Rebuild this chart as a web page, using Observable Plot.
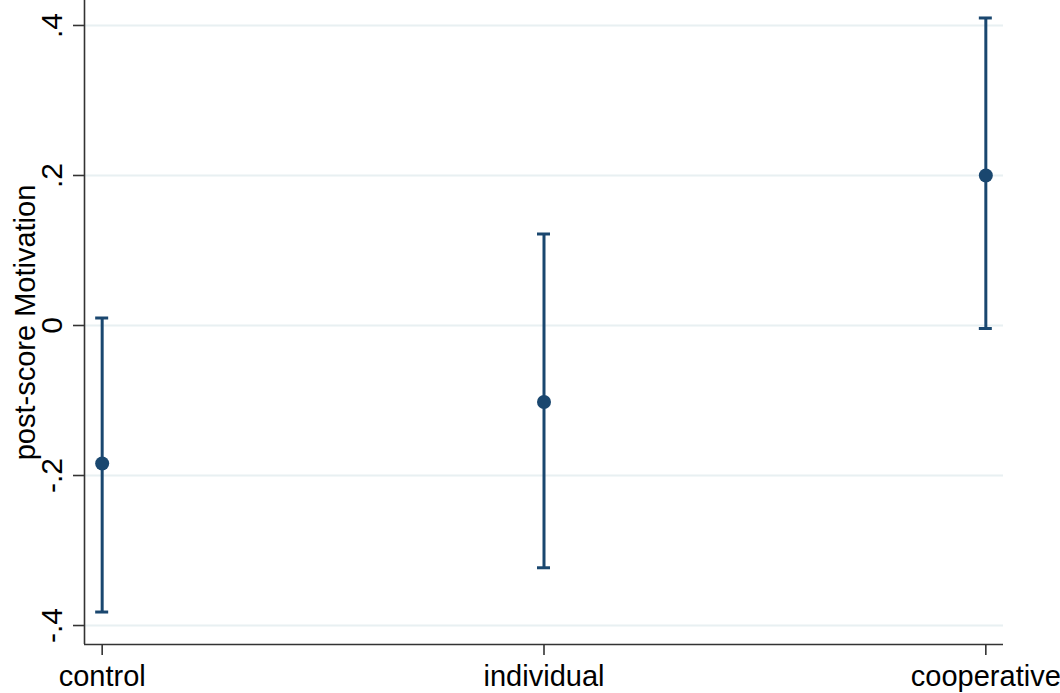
<!DOCTYPE html>
<html>
<head>
<meta charset="utf-8">
<script src="https://cdn.jsdelivr.net/npm/d3@7"></script>
<script src="https://cdn.jsdelivr.net/npm/@observablehq/plot@0.6"></script>
<style>
  body { margin: 0; background: #fff; }
  #chart svg { display: block; }
</style>
</head>
<body>
<div id="chart"></div>
<script>
// Group means of post-score Motivation with 95% confidence intervals
const categories = ["control", "individual", "cooperative"];
const means = [-0.184, -0.102, 0.200];
const lower = [-0.382, -0.323, -0.004];
const upper = [0.010, 0.122, 0.410];

const yTicks = [-0.4, -0.2, 0, 0.2, 0.4];
const yTickLabels = ["-.4", "-.2", "0", ".2", ".4"];
const yTitle = "post-score Motivation";

const rows = categories.map((c, i) => ({i, c, mean: means[i], lo: lower[i], hi: upper[i]}));
const yLabelRows = yTicks.map((v, k) => ({v, label: yTickLabels[k]}));

const xPad = 0.04;
const xDomain = [-xPad, categories.length - 1 + xPad];
const yDomain = [-0.4253, 0.4333];

const navy = "#1a476f";
const axisColor = "#333333";
const gridColor = "#e8f0f2";

const chart = Plot.plot({
  width: 1060,
  height: 693,
  marginLeft: 84,
  marginRight: 57,
  marginTop: 0,
  marginBottom: 49,
  style: {fontFamily: "'Liberation Sans', Arial, sans-serif", fontSize: "29px", color: "#000", background: "#fff"},
  x: {domain: xDomain, axis: null},
  y: {domain: yDomain, axis: null},
  marks: [
    // horizontal grid
    Plot.ruleY(yTicks, {stroke: gridColor, strokeWidth: 2}),
    // axis lines
    Plot.ruleX([xDomain[0]], {stroke: axisColor, strokeWidth: 1.6}),
    Plot.ruleY([yDomain[0]], {stroke: axisColor, strokeWidth: 1.6}),
    // y ticks (labels drawn separately, rotated)
    Plot.axisY({ticks: yTicks, tickSize: 11, tickFormat: () => "", stroke: axisColor, strokeWidth: 1.6, label: null}),
    Plot.text(yLabelRows, {
      y: "v", text: "label", frameAnchor: "left", dx: -23,
      rotate: -90, textAnchor: "middle", lineAnchor: "bottom", fontSize: 30, fill: "#000"
    }),
    Plot.text([yTitle], {
      text: d => d, frameAnchor: "left", dx: -50,
      rotate: -90, textAnchor: "middle", lineAnchor: "bottom", fontSize: 29, fill: "#000"
    }),
    // x axis with category names
    Plot.axisX({
      ticks: d3.range(categories.length), tickFormat: i => categories[i],
      tickSize: 11, tickPadding: 10, stroke: axisColor, strokeWidth: 1.6,
      fontSize: 29, fill: "#000", label: null
    }),
    // confidence intervals
    Plot.ruleX(rows, {x: "i", y1: "lo", y2: "hi", stroke: navy, strokeWidth: 3}),
    Plot.ruleY(rows, {y: "lo", x1: "i", x2: "i", insetLeft: -6.5, insetRight: -6.5, stroke: navy, strokeWidth: 3}),
    Plot.ruleY(rows, {y: "hi", x1: "i", x2: "i", insetLeft: -6.5, insetRight: -6.5, stroke: navy, strokeWidth: 3}),
    // means
    Plot.dot(rows, {x: "i", y: "mean", r: 7, fill: navy, stroke: "none"})
  ]
});

document.getElementById("chart").appendChild(chart);
</script>
</body>
</html>
